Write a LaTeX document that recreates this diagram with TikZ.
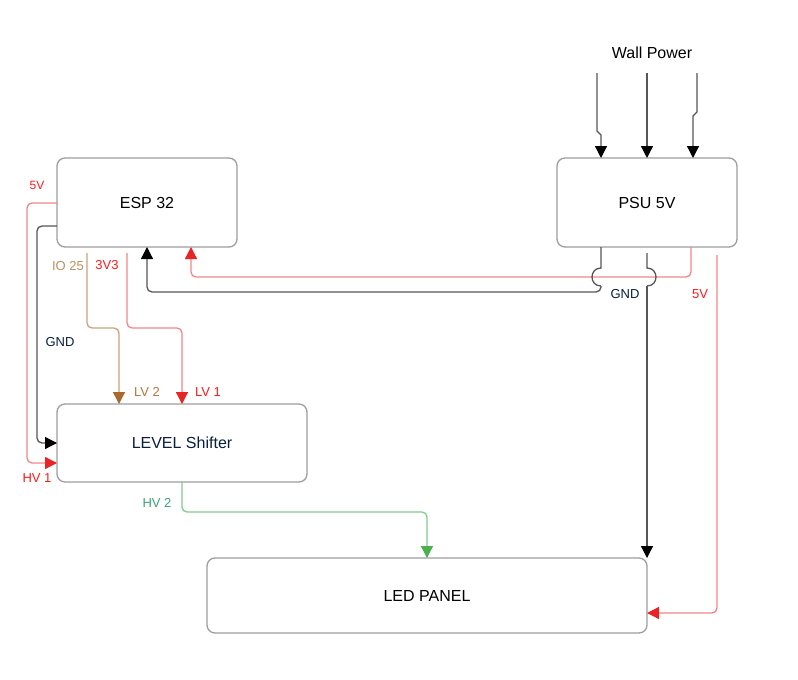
\documentclass[tikz,border=0pt]{standalone}
\usepackage{fontspec}
\setmainfont{Liberation Sans}
\usetikzlibrary{arrows.meta,calc}
\definecolor{boxgray}{HTML}{9E9E9E}
\definecolor{lnblack}{HTML}{575757}
\definecolor{lnred}{HTML}{F28686}
\definecolor{tipred}{HTML}{E82424}
\definecolor{lnbrown}{HTML}{C9A27C}
\definecolor{tipbrown}{HTML}{A8692F}
\definecolor{lngreen}{HTML}{80CC8C}
\definecolor{tipgreen}{HTML}{4CAF50}
\definecolor{navy}{HTML}{0A1F3F}
\definecolor{txtred}{HTML}{FF1A1A}
\definecolor{txttan}{HTML}{C08F5E}
\definecolor{txtbrown}{HTML}{B07838}
\definecolor{txtteal}{HTML}{35A678}
\tikzset{
  box/.style={draw=boxgray, line width=1.3pt, rounded corners=8pt, inner sep=0pt, outer sep=0pt,
    font=\fontsize{16}{19}\selectfont, text=black},
  wire/.style={line width=1.3pt, rounded corners=5pt},
  tipblk/.style={-{Triangle[length=12pt,width=12pt,color=black]}},
  tipr/.style={-{Triangle[length=12pt,width=12pt,color=tipred]}},
  tipbr/.style={-{Triangle[length=12pt,width=12pt,color=tipbrown]}},
  tipgr/.style={-{Triangle[length=12pt,width=12pt,color=tipgreen]}},
  lbl/.style={font=\fontsize{13}{15}\selectfont, inner sep=0pt},
}
\begin{document}
\begin{tikzpicture}[x=1pt,y=-1pt]
\fill[white] (0,0) rectangle (798,680);
\useasboundingbox (0,0) rectangle (798,680);

% boxes
\node[box, minimum width=180pt, minimum height=89pt] (esp) at (147,202.5) {ESP 32};
\node[box, minimum width=180pt, minimum height=89pt] (psu) at (647,202.5) {PSU 5V};
\node[box, minimum width=250pt, minimum height=78pt, text=navy] (lvl) at (182,443) {LEVEL Shifter};
\node[box, minimum width=440pt, minimum height=75pt] (led) at (427,595.5) {LED PANEL};

% wall power
\node[font=\fontsize{16}{19}\selectfont, inner sep=0pt] (wall) at (652,53) {Wall Power};
\coordinate (w1) at (597,73);
\coordinate (w2) at (647,73);
\coordinate (w3) at (697,73);
\draw[line width=1.3pt, lnblack, tipblk] (w1) -- (597,131) -- (601,135) -- ($(psu.north west)+(44,0)$);
\draw[line width=1.3pt, lnblack, tipblk] (w2) -- (psu.north);
\draw[line width=1.3pt, lnblack, tipblk] (w3) -- (697,112) -- (693,116) -- ($(psu.north west)+(136,0)$);

% PSU 5V -> ESP (red)
\draw[wire, lnred, tipr] ($(psu.south west)+(134,0)$) -- (691,277) -- (191,277) -- ($(esp.south west)+(134,0)$);

% PSU GND -> ESP (black) with jump
\draw[line width=1.3pt, lnblack] ($(psu.south west)+(44,0)$) -- (601,268)
  .. controls (589,268) and (589,286) .. (601,286);
\draw[wire, lnblack, tipblk] (601,286) -- (601,292) -- (147,292) -- (esp.south);

% PSU -> LED (black) with jump
\coordinate (g2) at (647,253);
\draw[line width=1.3pt, lnblack] (g2) -- (647,268)
  .. controls (659,268) and (659,286) .. (647,286);
\draw[line width=1.3pt, lnblack, tipblk] (647,286) -- (led.north east);

% 5V -> LED (red)
\coordinate (p5) at (717,255);
\draw[wire, lnred, tipr] (p5) -- (717,613) -- ($(led.south east)+(0,-20)$);

% ESP left side -> level shifter
\draw[wire, lnred, tipr] ($(esp.north west)+(0,45)$) -- (27,203) -- (27,463) -- ($(lvl.north west)+(0,59)$);
\draw[wire, lnblack, tipblk] ($(esp.north west)+(0,68)$) -- (37,226) -- (37,443) -- (lvl.west);

% IO25 and 3V3
\coordinate (io) at ($(esp.south west)+(30,6)$);
\coordinate (v33) at ($(esp.south west)+(70,6)$);
\draw[wire, lnbrown, tipbr] (io) -- (87,328) -- (119,328) -- ($(lvl.north west)+(62,0)$);
\draw[wire, lnred, tipr] (v33) -- (127,328) -- (182,328) -- (lvl.north);

% HV2
\draw[wire, lngreen, tipgr] (lvl.south) -- (182,512) -- (427,512) -- (led.north);

% labels
\node[lbl, text=txtred, font=\fontsize{12}{14}\selectfont] (l5a) at (37,185) {5V};
\node[lbl, text=txttan] (lio) at (68,266) {IO 25};
\node[lbl, text=txtred] (l33) at (107,265) {3V3};
\node[lbl, text=navy] (lg1) at (60,342) {GND};
\node[lbl, text=txtbrown] (llv2) at (147,392) {LV 2};
\node[lbl, text=txtred] (llv1) at (208,392) {LV 1};
\node[lbl, text=txtred] (lhv1) at (37,478) {HV 1};
\node[lbl, text=txtteal] (lhv2) at (157,503) {HV 2};
\node[lbl, text=navy] (lg2) at (625,294) {GND};
\node[lbl, text=txtred] (l5b) at (700,294) {5V};
\end{tikzpicture}
\end{document}
